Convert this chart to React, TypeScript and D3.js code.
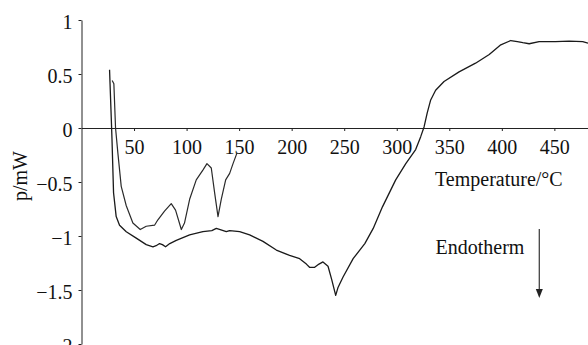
import React, { useEffect, useRef } from 'react';
import * as d3 from 'd3';

// upper (shorter) trace
const tempsA = [29.2, 30.8, 32.4, 34.6, 37.8, 42.6, 48.9, 55.9, 61.6, 69.5, 72.7, 79, 85.4, 89.5, 95, 98, 102.9, 109.2, 115.5, 119.4, 123.5, 126.7, 129.9, 133, 137.2, 141, 144.2, 148];
const valuesA = [0.44, 0.41, 0, -0.23, -0.54, -0.72, -0.88, -0.94, -0.91, -0.9, -0.85, -0.77, -0.7, -0.76, -0.94, -0.88, -0.66, -0.48, -0.39, -0.33, -0.37, -0.6, -0.82, -0.66, -0.48, -0.42, -0.33, -0.23];

// full trace
const tempsB = [26.7, 28.3, 29, 30.5, 33, 36.2, 42.6, 52.1, 61.6, 68, 71, 74.3, 77, 80, 84, 90.2, 102.9, 115.5, 124, 128.3, 132, 137.8, 141, 150.5, 160, 172.7, 185.4, 198, 207.6, 214, 217, 221.9, 226, 229.8, 234.6, 238, 241.9, 244, 248.9, 258.5, 269.6, 277.6, 286.4, 299, 308.6, 318, 322.8, 326, 329, 332.3, 337, 345, 359.3, 375, 388, 399, 408.5, 414.8, 420, 426, 435.5, 451, 464, 477, 482];
const valuesB = [0.54, 0.1, -0.1, -0.6, -0.82, -0.9, -0.96, -1.02, -1.08, -1.1, -1.09, -1.07, -1.08, -1.1, -1.07, -1.04, -0.99, -0.96, -0.95, -0.93, -0.94, -0.96, -0.95, -0.96, -0.99, -1.05, -1.13, -1.18, -1.21, -1.26, -1.29, -1.29, -1.26, -1.24, -1.28, -1.4, -1.55, -1.48, -1.38, -1.21, -1.07, -0.93, -0.73, -0.48, -0.33, -0.2, -0.08, 0.01, 0.14, 0.26, 0.35, 0.43, 0.52, 0.6, 0.68, 0.77, 0.81, 0.8, 0.79, 0.78, 0.8, 0.8, 0.805, 0.8, 0.785];

const xTicks = [50, 100, 150, 200, 250, 300, 350, 400, 450];
const yTicks = [1, 0.5, 0, -0.5, -1, -1.5, -2];

const W = 588;
const H = 345;
const font = 'Liberation Serif';

export default function App() {
  const xAxisRef = useRef<SVGGElement>(null);
  const yAxisRef = useRef<SVGGElement>(null);

  const x = d3.scaleLinear().domain([0, 482]).range([81.5, 588]);
  const y = d3.scaleLinear().domain([-2, 1]).range([344, 20]);

  const line = d3.line<[number, number]>()
    .x(d => x(d[0]))
    .y(d => y(d[1]));

  const seriesA = tempsA.map((t, i) => [t, valuesA[i]] as [number, number]);
  const seriesB = tempsB.map((t, i) => [t, valuesB[i]] as [number, number]);

  useEffect(() => {
    const fmt = (d: any) => String(d).replace('-', '\u2212');

    const xa = d3.select(xAxisRef.current!);
    xa.call(d3.axisBottom(x).tickValues(xTicks).tickSize(3).tickSizeOuter(0).tickPadding(9).tickFormat(fmt) as any);
    xa.attr('font-family', font).attr('font-size', 20);
    xa.select('.domain').attr('stroke', '#222');
    xa.selectAll('.tick line').attr('stroke', '#222');
    xa.selectAll('.tick text').attr('fill', '#111');

    const ya = d3.select(yAxisRef.current!);
    ya.call(d3.axisLeft(y).tickValues(yTicks).tickSize(3).tickSizeOuter(0).tickPadding(6).tickFormat(fmt) as any);
    ya.attr('font-family', font).attr('font-size', 20);
    ya.select('.domain').attr('stroke', '#222');
    ya.selectAll('.tick line').attr('stroke', '#222');
    ya.selectAll('.tick text').attr('fill', '#111').attr('dy', '0.42em');
  }, []);

  const ax = 539.3;
  const tip = 298;

  return (
    <svg width={W} height={H} style={{ position: 'absolute', left: 0, top: 0, background: '#fff' }}>
      <g ref={yAxisRef} transform={`translate(${x(0)},0)`} />
      <g ref={xAxisRef} transform={`translate(0,${y(0)})`} />

      <path d={line(seriesB) ?? ''} fill="none" stroke="#1a1a1a" strokeWidth={1.3} strokeLinejoin="round" />
      <path d={line(seriesA) ?? ''} fill="none" stroke="#2a2a2a" strokeWidth={1.2} strokeLinejoin="round" />

      <g fontFamily={font} fontSize={20} fill="#111">
        <text transform="translate(27,176) rotate(-90)" textAnchor="middle">p/mW</text>
        <text x={435} y={186}>Temperature/°C</text>
        <text x={435.5} y={254}>Endotherm</text>
      </g>
      <line x1={ax} y1={229} x2={ax} y2={tip - 6} stroke="#444" strokeWidth={1.3} />
      <path d={`M${ax - 3.5},${tip - 9} L${ax + 3.5},${tip - 9} L${ax},${tip} Z`} fill="#222" />
    </svg>
  );
}
